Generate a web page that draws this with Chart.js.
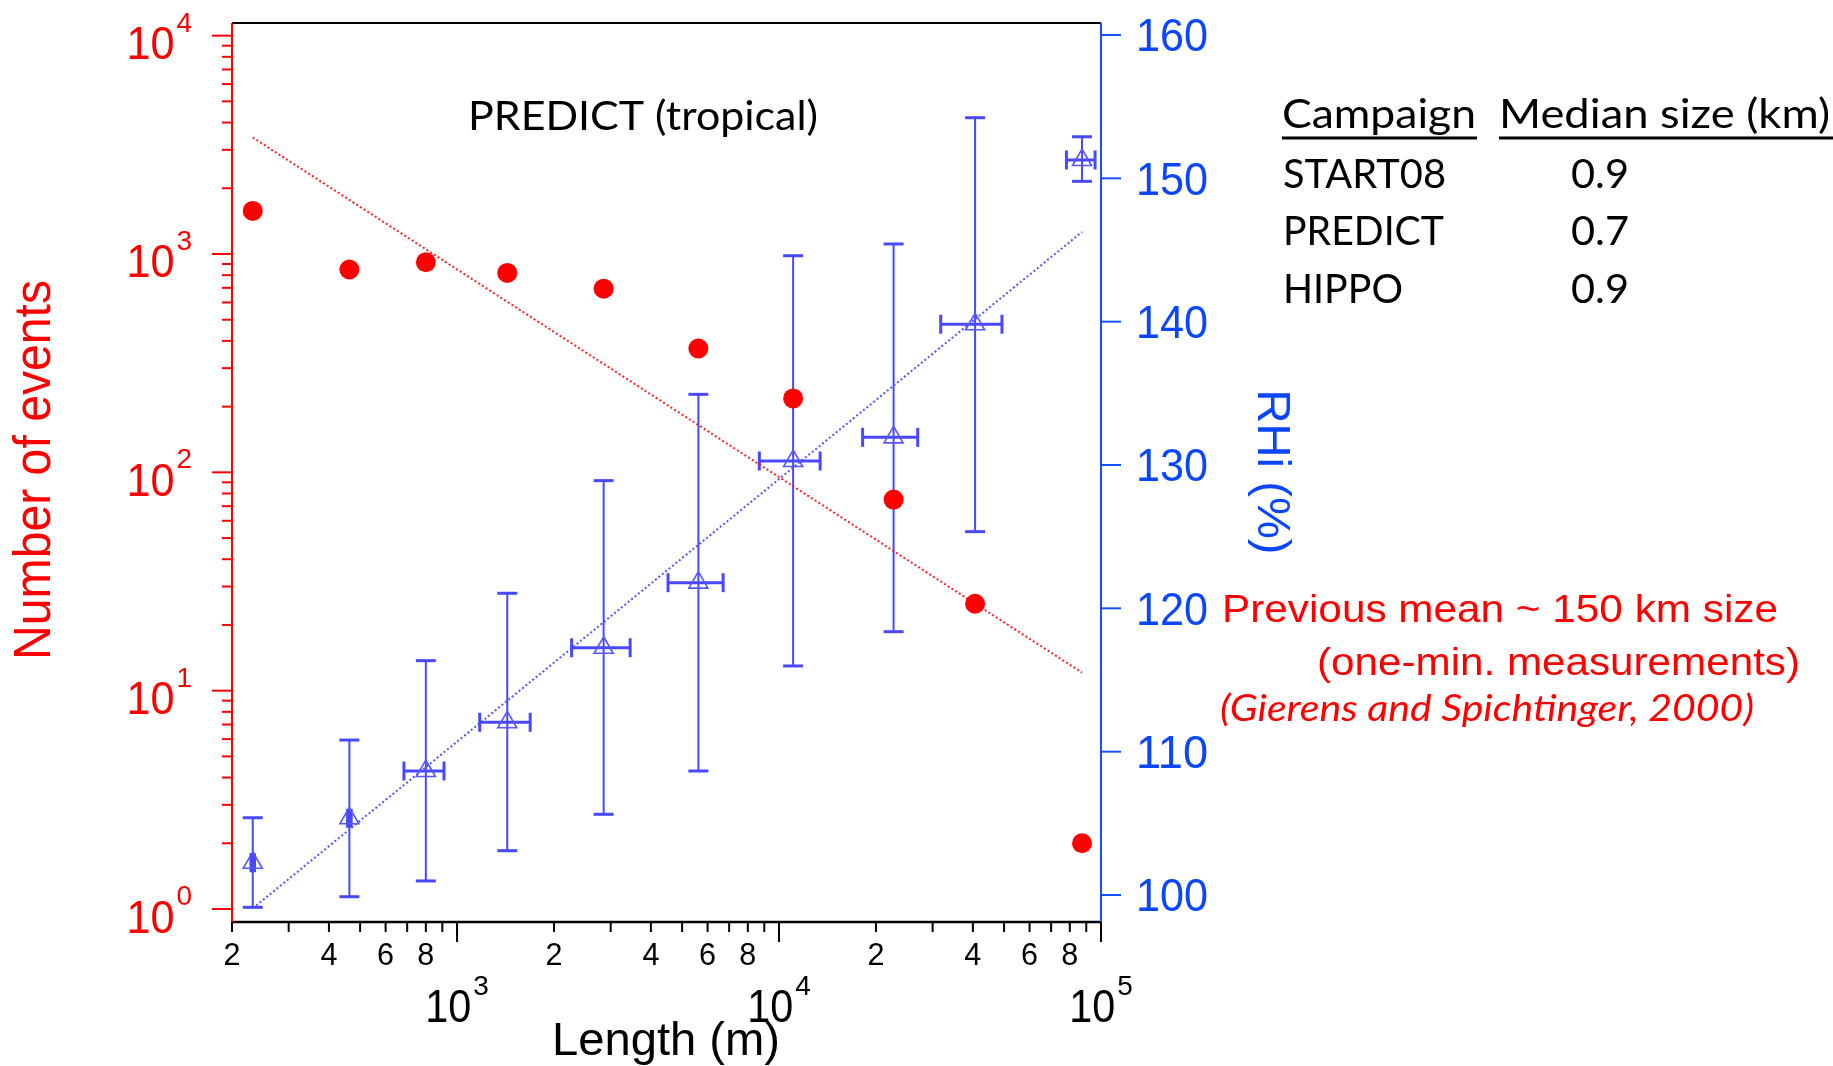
<!DOCTYPE html>
<html>
<head>
<meta charset="utf-8">
<script src="https://cdn.jsdelivr.net/npm/chart.js@4.4.1/dist/chart.umd.min.js"></script>
<style>
  html, body { margin: 0; padding: 0; background: #fff; }
  #wrap { width: 1833px; height: 1066px; position: relative; }
</style>
</head>
<body>
<div id="wrap"><canvas id="lenChart"></canvas></div>
<script>
// bin centres (m) and number of events per bin
const lengths = [232, 463, 800, 1432, 2853, 5617, 11060, 22690, 40640, 87300];
const events = [1575, 849, 917, 819, 694, 369, 218, 75, 25, 2];

// RHi per bin (%), with its spread and the bin width in length
const rhi = [102.25, 105.35, 108.65, 112.05, 117.25, 121.79, 130.28, 131.93, 139.82, 151.28];
const rhiLow = [99.14, 99.88, 100.98, 103.09, 105.63, 108.65, 115.98, 118.37, 125.35, 149.79];
const rhiHigh = [105.39, 110.81, 116.35, 121.05, 128.91, 134.93, 144.60, 145.42, 154.23, 152.90];
const lenLow = [229, 457, 684, 1176, 2269, 4521, 8686, 18180, 31780, 78100];
const lenHigh = [235, 469, 911, 1687, 3448, 6705, 13418, 26960, 49250, 95860];

// dotted fits, end points only (straight in log space)
const fitLengths = [232, 87300];
const eventsFit = [3415, 12.1];
const rhiFit = [99.07, 146.26];

// axis ticks
const leftDecades = [0, 1, 2, 3, 4];
const rightTicks = [100, 110, 120, 130, 140, 150, 160];
const xDecades = [2, 3, 4, 5];
const xMinorLabels = ['2', '4', '6', '8'];

// side table
const campaigns = ['START08', 'PREDICT', 'HIPPO'];
const medianSizes = ['0.9', '0.7', '0.9'];

const RED = '#ff0000';
const BLUE = '#0a46ff';
const BAR = '#4848ff';
const SANS = '"Liberation Sans", Arial, sans-serif';
const HUMAN = 'Lato, "Open Sans", sans-serif';

// text squeezed/stretched horizontally to a given width
function drawText(ctx, str, x, y, font, color, width, align) {
    ctx.save();
    ctx.font = font;
    ctx.fillStyle = color;
    ctx.textAlign = 'left';
    ctx.textBaseline = 'alphabetic';
    const w = ctx.measureText(str).width;
    const sx = width ? width / w : 1;
    let left = x;
    if (align === 'center') left = x - w * sx / 2;
    else if (align === 'right') left = x - w * sx;
    ctx.translate(left, y);
    ctx.scale(sx, 1);
    ctx.fillText(str, 0, 0);
    ctx.restore();
}

// "10" with a raised exponent
function drawPower(ctx, exp, x, base, supBase, bigPx, supPx, w10, color, align) {
    ctx.save();
    ctx.font = `${supPx}px ${SANS}`;
    const ws = ctx.measureText(String(exp)).width;
    const total = w10 + 2 + ws;
    const left = align === 'right' ? x - total : x - total / 2;
    drawText(ctx, '10', left, base, `${bigPx}px ${SANS}`, color, w10, 'left');
    drawText(ctx, String(exp), left + w10 + 2, supBase, `${supPx}px ${SANS}`, color, null, 'left');
    ctx.restore();
}

function line(ctx, x1, y1, x2, y2, color, width) {
    ctx.beginPath();
    ctx.strokeStyle = color;
    ctx.lineWidth = width;
    ctx.moveTo(x1, y1);
    ctx.lineTo(x2, y2);
    ctx.stroke();
}

const framePlugin = {
    id: 'frame',
    beforeDatasetsDraw(chart) {
        // error bars for the RHi bins
        const ctx = chart.ctx;
        const xs = chart.scales.x, ys = chart.scales.y2;
        ctx.save();
        ctx.lineCap = 'butt';
        lengths.forEach((len, i) => {
            const px = xs.getPixelForValue(len);
            const py = ys.getPixelForValue(rhi[i]);
            const top = ys.getPixelForValue(rhiHigh[i]);
            const bot = ys.getPixelForValue(rhiLow[i]);
            const l = xs.getPixelForValue(lenLow[i]);
            const r = xs.getPixelForValue(lenHigh[i]);
            line(ctx, px, top, px, bot, BAR, 2);
            line(ctx, px - 10, top, px + 10, top, BAR, 3);
            line(ctx, px - 10, bot, px + 10, bot, BAR, 3);
            line(ctx, l, py, r, py, BAR, 3);
            line(ctx, l, py - 9.5, l, py + 9.5, BAR, 3);
            line(ctx, r, py - 9.5, r, py + 9.5, BAR, 3);
        });
        ctx.restore();
    },
    afterDraw(chart) {
        const ctx = chart.ctx;
        const a = chart.chartArea;
        const xs = chart.scales.x, yl = chart.scales.y, yr = chart.scales.y2;
        ctx.save();
        ctx.lineCap = 'butt';

        // frame
        line(ctx, a.left, a.top, a.right, a.top, '#000', 2);
        line(ctx, a.left - 1, a.bottom, a.right + 1, a.bottom, '#000', 2.5);
        line(ctx, a.left, a.top, a.left, a.bottom, RED, 2);
        line(ctx, a.right, a.top, a.right, a.bottom, '#1450ff', 2);

        // left log axis
        leftDecades.forEach(e => {
            for (let m = 1; m <= 9; m++) {
                const v = m * Math.pow(10, e);
                if (v > Math.pow(10, leftDecades[leftDecades.length - 1])) break;
                const y = yl.getPixelForValue(v);
                line(ctx, a.left, y, a.left - (m === 1 ? 20 : 10), y, RED, 2);
            }
            const y0 = yl.getPixelForValue(Math.pow(10, e));
            drawPower(ctx, e, a.left - 40, y0 + 23.5, y0 - 4, 46, 28, 48, RED, 'right');
        });

        // right linear axis
        rightTicks.forEach(v => {
            const y = yr.getPixelForValue(v);
            line(ctx, a.right, y, a.right + 20, y, '#1450ff', 2);
            drawText(ctx, String(v), a.right + 35, y + 16.5, `46px ${SANS}`, BLUE, 72, 'left');
        });

        // bottom log axis
        xDecades.forEach(e => {
            for (let m = 1; m <= 9; m++) {
                const v = m * Math.pow(10, e);
                if (v < xs.min || v > xs.max) continue;
                const x = xs.getPixelForValue(v);
                line(ctx, x, a.bottom, x, a.bottom + (m === 1 ? 20 : 10), '#000', 2);
                if (xMinorLabels.includes(String(m))) {
                    drawText(ctx, String(m), x, a.bottom + 43, `32px ${SANS}`, '#000', 17, 'center');
                }
            }
            const v0 = Math.pow(10, e);
            if (v0 >= xs.min && v0 <= xs.max) {
                drawPower(ctx, e, xs.getPixelForValue(v0), 1022, 995, 47, 28, 46, '#000', 'center');
            }
        });

        // axis titles
        drawText(ctx, 'Length (m)', 666, 1055, `46px ${SANS}`, '#000', 228, 'center');

        ctx.save();
        ctx.translate(50, 470);
        ctx.rotate(-Math.PI / 2);
        drawText(ctx, 'Number of events', 0, 0, `52px ${SANS}`, RED, 380, 'center');
        ctx.restore();

        ctx.save();
        ctx.translate(1258, 472);
        ctx.rotate(Math.PI / 2);
        drawText(ctx, 'RHi (%)', 0, 0, `47px ${SANS}`, BLUE, 165, 'center');
        ctx.restore();

        // panel label
        drawText(ctx, 'PREDICT (tropical)', 468, 130, `40px ${HUMAN}`, '#000', 350, 'left');

        // median size table
        drawText(ctx, 'Campaign', 1282, 128, `40px ${HUMAN}`, '#000', 194, 'left');
        drawText(ctx, 'Median size (km)', 1499, 128, `40px ${HUMAN}`, '#000', 331, 'left');
        line(ctx, 1282, 138, 1477, 138, '#000', 3);
        line(ctx, 1499, 138, 1833, 138, '#000', 3);
        const nameW = [163, 161, 120];
        campaigns.forEach((c, i) => {
            const base = 188 + i * 57.3;
            drawText(ctx, c, 1283, base, `40px ${HUMAN}`, '#000', nameW[i], 'left');
            drawText(ctx, medianSizes[i], 1571, base, `40px ${HUMAN}`, '#000', 58, 'left');
        });

        // earlier estimate
        drawText(ctx, 'Previous mean ~ 150 km size', 1222, 621.5, `38px ${SANS}`, RED, 556, 'left');
        drawText(ctx, '(one-min. measurements)', 1317, 674.5, `38px ${SANS}`, RED, 483, 'left');
        drawText(ctx, '(Gierens and Spichtinger, 2000)', 1220, 721, `italic 36px ${HUMAN}`, RED, 534, 'left');

        ctx.restore();
    }
};

new Chart(document.getElementById('lenChart'), {
    type: 'scatter',
    data: {
        datasets: [{
            label: 'Number of events',
            data: lengths.map((x, i) => ({ x, y: events[i] })),
            yAxisID: 'y',
            pointRadius: 10,
            pointHoverRadius: 10,
            backgroundColor: RED,
            borderWidth: 0,
            order: 0
        }, {
            label: 'RHi (%)',
            data: lengths.map((x, i) => ({ x, y: rhi[i] })),
            yAxisID: 'y2',
            pointStyle: 'triangle',
            pointRadius: 11,
            pointHoverRadius: 11,
            borderColor: '#5656ff',
            backgroundColor: 'rgba(255,255,255,0)',
            borderWidth: 1.6,
            order: 1
        }, {
            label: 'Events fit',
            data: fitLengths.map((x, i) => ({ x, y: eventsFit[i] })),
            yAxisID: 'y',
            showLine: true,
            pointRadius: 0,
            borderColor: 'rgba(255,20,20,0.95)',
            borderWidth: 2,
            borderDash: [2, 2.4],
            order: 2
        }, {
            label: 'RHi fit',
            data: fitLengths.map((x, i) => ({ x, y: rhiFit[i] })),
            yAxisID: 'y2',
            showLine: true,
            pointRadius: 0,
            borderColor: 'rgb(84,84,255)',
            borderWidth: 2,
            borderDash: [2, 2.4],
            order: 3
        }]
    },
    options: {
        responsive: true,
        maintainAspectRatio: false,
        animation: false,
        devicePixelRatio: 1,
        layout: { padding: { top: 23, left: 0, right: 0, bottom: 0 } },
        plugins: { legend: { display: false }, tooltip: { enabled: false } },
        scales: {
            x: {
                type: 'logarithmic', position: 'bottom', min: 200, max: 100000, bounds: 'data',
                ticks: { display: false }, grid: { display: false }, border: { display: false },
                afterFit: (s) => { s.height = 144; }
            },
            y: {
                type: 'logarithmic', position: 'left', min: Math.pow(10, -0.0595), max: Math.pow(10, 4.058), bounds: 'data',
                ticks: { display: false }, grid: { display: false }, border: { display: false },
                afterFit: (s) => { s.width = 232; }
            },
            y2: {
                type: 'linear', position: 'right', min: 98.116, max: 160.837, bounds: 'data',
                ticks: { display: false }, grid: { display: false }, border: { display: false },
                afterFit: (s) => { s.width = 732; }
            }
        }
    },
    plugins: [framePlugin]
});
</script>
</body>
</html>
